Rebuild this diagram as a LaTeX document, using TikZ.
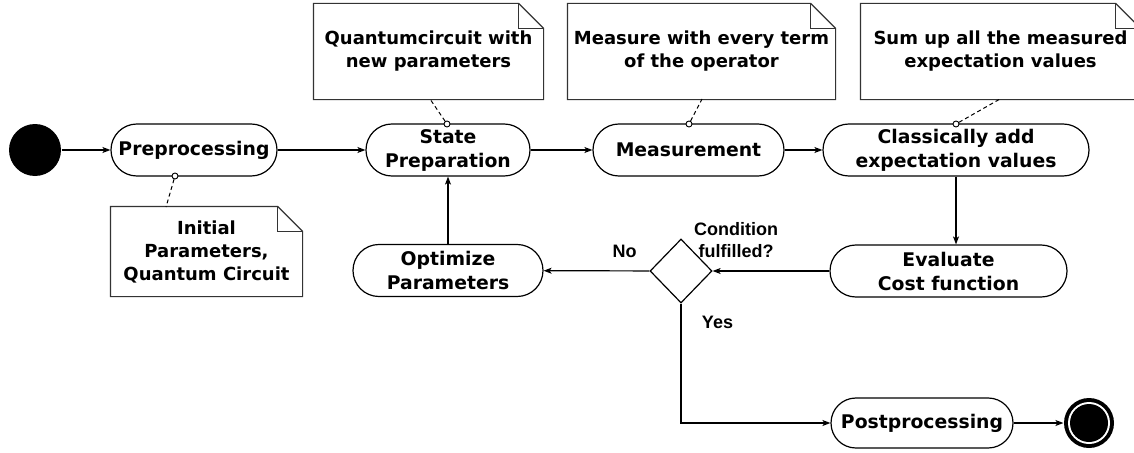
\documentclass[tikz,border=0pt]{standalone}
\usepackage{fontspec}
\setmainfont{DejaVu Sans}
\newfontfamily\labelfont{Liberation Sans}
\usetikzlibrary{arrows.meta,shapes.geometric}

\begin{document}
\begin{tikzpicture}[x=1pt,y=-1pt,
  line width=1.2pt,
  font=\bfseries\fontsize{18}{23}\selectfont,
  act/.style={draw, rounded corners=25.9pt, minimum height=52pt, inner sep=0pt, align=center,
              font=\bfseries\fontsize{18.8}{24}\selectfont},
  notebox/.style={inner sep=0pt, align=center},
  notefold/.style={line width=1.2pt, draw=black!80},
  flow/.style={-{Stealth[length=8pt,width=6pt,inset=2pt]}},
  anchorline/.style={line width=1pt, dash pattern=on 4pt off 3pt},
  pindot/.style={circle, draw, fill=white, line width=0.9pt, minimum size=6pt, inner sep=0pt},
  lbl/.style={font=\labelfont\bfseries\fontsize{18}{22}\selectfont, align=center, inner sep=0pt}
]
\useasboundingbox (0,0) rectangle (1134,452);
\clip (0,0) rectangle (1134,452);

% start and end states
\node[circle, fill=black, minimum size=52pt, inner sep=0pt] (start) at (35,150) {};

% activities
\node[act, minimum width=166pt] (pre)   at (194,150)   {Preprocessing};
\node[act, minimum width=164pt] (state) at (448,150)   {State\\Preparation};
\node[act, minimum width=191pt] (meas)  at (688.5,150) {Measurement};
\node[act, minimum width=266pt] (class) at (956,150)   {Classically add\\expectation values};
\node[act, minimum width=237pt] (eval)  at (948.5,271) {Evaluate\\Cost function};
\node[act, minimum width=190pt] (opt)   at (448,270.5) {Optimize\\Parameters};
\node[act, minimum width=182pt, minimum height=50pt, rounded corners=24.9pt] (post) at (922,423) {Postprocessing};

\node[diamond, draw, minimum width=62pt, minimum height=64pt, inner sep=0pt] (dec) at (681,271) {};

\node[circle, fill=black, minimum size=50pt, inner sep=0pt] (stop) at (1089,423) {};
\fill[white] (stop.center) circle (21pt);
\fill[black] (stop.center) circle (19pt);

% notes
\node[notebox, minimum width=191pt, minimum height=89pt] (nInit) at (206.5,251.5) {Initial\\Parameters,\\Quantum Circuit};
\node[notebox, minimum width=229pt, minimum height=95pt] (nQC)   at (428.5,51.5)  {Quantumcircuit with\\new parameters};
\node[notebox, minimum width=267pt, minimum height=95pt] (nMeas) at (701.5,51.5)  {Measure with every term\\of the operator};
\node[notebox, minimum width=279pt, minimum height=95pt] (nSum)  at (1000.5,51.5) {Sum up all the measured\\expectation values};

\foreach \n in {nInit,nQC,nMeas,nSum}{
  \draw[notefold] (\n.north west) -- ([xshift=-25pt]\n.north east)
     -- ([yshift=-25pt]\n.north east) -- (\n.south east) -- (\n.south west) -- cycle;
  \draw[notefold] ([xshift=-25pt]\n.north east) |- ([yshift=-25pt]\n.north east);
}

% note anchors
\coordinate (aInit)  at (166,207);
\coordinate (aQC)    at (430,99);
\coordinate (aMeas)  at (702,99);
\coordinate (aSum)   at (1000,99);
\node[pindot] (pPre)   at (175,176) {};
\node[pindot] (pState) at (447,124) {};
\node[pindot] (pMeas)  at (689,124) {};
\node[pindot] (pClass) at (956,124) {};
\draw[anchorline] (pPre) -- (aInit);
\draw[anchorline] (pState) -- (aQC);
\draw[anchorline] (pMeas) -- (aMeas);
\draw[anchorline] (pClass) -- (aSum);

% control flow
\draw[flow] (start) -- (pre);
\draw[flow] (pre) -- (state);
\draw[flow] (state) -- (meas);
\draw[flow] (meas) -- (class);
\draw[flow] (class.south) -- (class.south |- eval.north);
\draw[flow] (eval) -- (dec);
\draw[flow] (dec) -- (opt);
\draw[flow] (opt) -- (state);
\draw[flow] (dec.south) |- (post.west);
\draw[flow] (post) -- (stop);

% guard labels
\node[lbl] (cond) at (736,240) {Condition\\fulfilled?};
\node[lbl] (no)   at (624.5,251) {No};
\node[lbl] (yes)  at (717.5,322) {Yes};
\end{tikzpicture}
\end{document}
